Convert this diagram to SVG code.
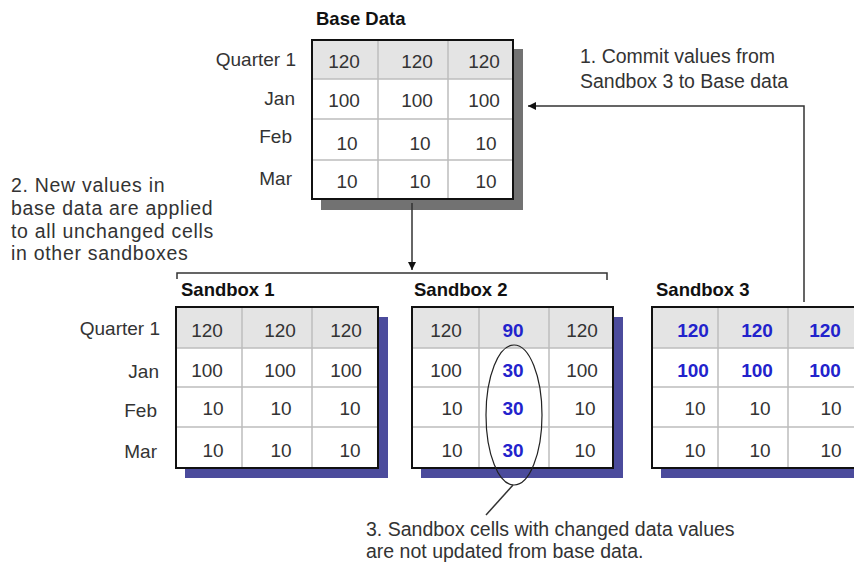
<svg xmlns="http://www.w3.org/2000/svg" width="854" height="567" viewBox="0 0 854 567">
<style>
text{font-family:"Liberation Sans",Arial,sans-serif;fill:#333}
.lbl{font-size:19px;text-anchor:end}
.num{font-size:19px;text-anchor:middle}
.chg{font-size:19px;text-anchor:middle;font-weight:bold;fill:#2222cc}
.title{font-size:18.5px;font-weight:bold;fill:#111}
.note{font-size:19.5px}
.wide{letter-spacing:0.7px}
.hdr{fill:#e4e4e4}
.body{fill:#fff}
.grid{stroke:#bdbdbd;stroke-width:1.5;fill:none}
.frame{fill:none;stroke:#111;stroke-width:2}
.conn{stroke:#333;stroke-width:1.5;fill:none}
</style>
<defs>
<marker id="ah" viewBox="0 0 10 10" refX="10" refY="5" markerWidth="8" markerHeight="8" orient="auto" markerUnits="userSpaceOnUse">
<path d="M0,0 L10,5 L0,10 z" fill="#111"/>
</marker>
</defs>

<g id="base-data">
<text class="title" x="316" y="25">Base Data</text>
<rect x="321" y="49" width="202" height="161" fill="#727272"/>
<rect x="312" y="40" width="201" height="39" class="hdr"/>
<rect x="312" y="79" width="201" height="120" class="body"/>
<path class="grid" d="M378,40V199M448,40V199M312,79H513M312,119H513M312,160H513"/>
<rect x="312" y="40" width="201" height="159" class="frame"/>
<text class="lbl" x="296" y="66">Quarter 1</text>
<text class="lbl" x="295" y="105">Jan</text>
<text class="lbl" x="292" y="143">Feb</text>
<text class="lbl" x="292" y="185">Mar</text>
<text class="num" x="344" y="68">120</text><text class="num" x="417" y="68">120</text><text class="num" x="484" y="68">120</text>
<text class="num" x="344" y="107">100</text><text class="num" x="417" y="107">100</text><text class="num" x="484" y="107">100</text>
<text class="num" x="347" y="150">10</text><text class="num" x="420" y="150">10</text><text class="num" x="486" y="150">10</text>
<text class="num" x="347" y="188">10</text><text class="num" x="420" y="188">10</text><text class="num" x="486" y="188">10</text>
</g>

<g id="row-labels">
<text class="lbl" x="160" y="335">Quarter 1</text>
<text class="lbl" x="159" y="378">Jan</text>
<text class="lbl" x="157" y="417">Feb</text>
<text class="lbl" x="157" y="458">Mar</text>
</g>

<g id="sandbox-1">
<text class="title" x="181" y="296">Sandbox 1</text>
<rect x="185" y="317" width="203" height="161" fill="#4b4b9c"/>
<rect x="176" y="307" width="202" height="41" class="hdr"/>
<rect x="176" y="348" width="202" height="120" class="body"/>
<path class="grid" d="M242,307V468M312,307V468M176,348H378M176,387H378M176,427H378"/>
<rect x="176" y="307" width="202" height="161" class="frame"/>
<text class="num" x="207" y="337">120</text><text class="num" x="280" y="337">120</text><text class="num" x="346" y="337">120</text>
<text class="num" x="207" y="377">100</text><text class="num" x="280" y="377">100</text><text class="num" x="346" y="377">100</text>
<text class="num" x="213" y="415">10</text><text class="num" x="281" y="415">10</text><text class="num" x="350" y="415">10</text>
<text class="num" x="213" y="457">10</text><text class="num" x="281" y="457">10</text><text class="num" x="350" y="457">10</text>
</g>

<g id="sandbox-2">
<text class="title" x="414" y="296">Sandbox 2</text>
<rect x="421" y="317" width="202" height="161" fill="#4b4b9c"/>
<rect x="412" y="307" width="201" height="41" class="hdr"/>
<rect x="412" y="348" width="201" height="120" class="body"/>
<path class="grid" d="M479,307V468M549,307V468M412,348H613M412,387H613M412,427H613"/>
<rect x="412" y="307" width="201" height="161" class="frame"/>
<text class="num" x="446" y="337">120</text><text class="chg" x="513" y="337">90</text><text class="num" x="582" y="337">120</text>
<text class="num" x="446" y="377">100</text><text class="chg" x="513" y="377">30</text><text class="num" x="582" y="377">100</text>
<text class="num" x="452" y="415">10</text><text class="chg" x="513" y="415">30</text><text class="num" x="585" y="415">10</text>
<text class="num" x="452" y="457">10</text><text class="chg" x="513" y="457">30</text><text class="num" x="585" y="457">10</text>
</g>

<g id="sandbox-3">
<text class="title" x="656" y="296">Sandbox 3</text>
<rect x="661" y="317" width="202" height="161" fill="#4b4b9c"/>
<rect x="652" y="307" width="202" height="41" class="hdr"/>
<rect x="652" y="348" width="202" height="120" class="body"/>
<path class="grid" d="M718,307V468M788,307V468M652,348H854M652,387H854M652,427H854"/>
<rect x="652" y="307" width="212" height="161" class="frame"/>
<text class="chg" x="693" y="337">120</text><text class="chg" x="757" y="337">120</text><text class="chg" x="825" y="337">120</text>
<text class="chg" x="693" y="377">100</text><text class="chg" x="757" y="377">100</text><text class="chg" x="825" y="377">100</text>
<text class="num" x="695" y="415">10</text><text class="num" x="760" y="415">10</text><text class="num" x="831" y="415">10</text>
<text class="num" x="695" y="457">10</text><text class="num" x="760" y="457">10</text><text class="num" x="831" y="457">10</text>
</g>

<g id="notes">
<text class="note" x="580" y="63">1. Commit values from</text>
<text class="note" x="580" y="88">Sandbox 3 to Base data</text>
<text class="note wide" x="11" y="192">2. New values in</text>
<text class="note wide" x="11" y="215">base data are applied</text>
<text class="note wide" x="11" y="238">to all unchanged cells</text>
<text class="note wide" x="11" y="260">in other sandboxes</text>
<text class="note" x="366" y="536">3. Sandbox cells with changed data values</text>
<text class="note" x="366" y="558">are not updated from base data.</text>
</g>

<g id="connectors">
<path class="conn" d="M804,302V106H528" marker-end="url(#ah)"/>
<path class="conn" d="M412,203V270" marker-end="url(#ah)"/>
<path class="conn" d="M177,279V273H607V280"/>
<ellipse cx="514" cy="415" rx="28" ry="70" fill="none" stroke="#222" stroke-width="1.2"/>
<path class="conn" d="M513,485L486,515"/>
</g>
</svg>
